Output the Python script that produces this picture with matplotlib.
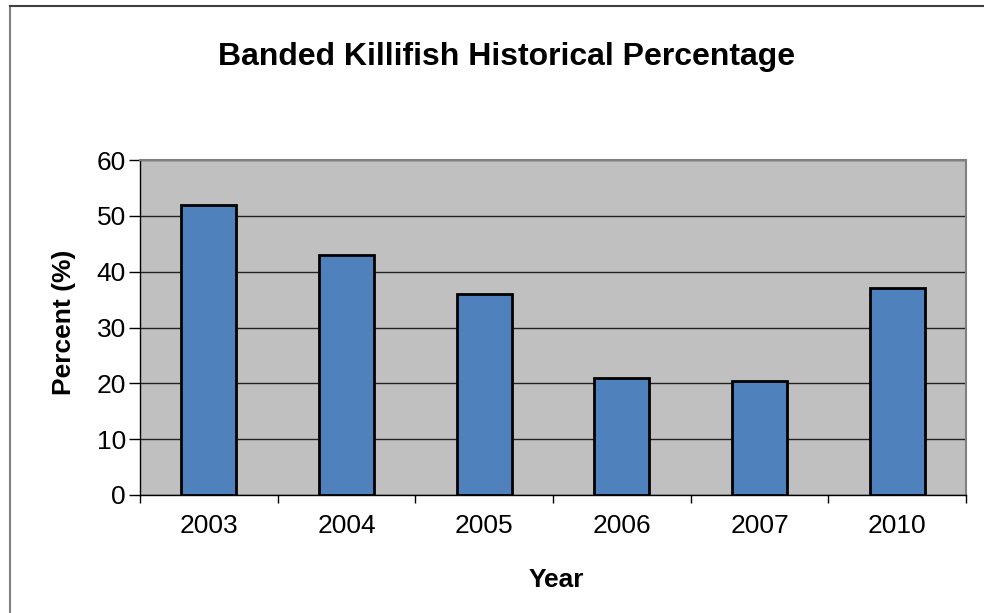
import matplotlib
matplotlib.use("Agg")
import matplotlib.pyplot as plt
from matplotlib.lines import Line2D

years = ["2003", "2004", "2005", "2006", "2007", "2010"]
percent = [52, 43, 36, 21, 20.5, 37]
y_ticks = [0, 10, 20, 30, 40, 50, 60]

plt.rcParams["font.family"] = ["Liberation Sans", "DejaVu Sans"]

W, H = 984, 613
fig = plt.figure(figsize=(W / 100, H / 100), dpi=100)
fig.patch.set_facecolor("white")

# chart frame (left and top edges visible)
fig.add_artist(Line2D([10 / W, 10 / W], [0, 1 - 6 / H], transform=fig.transFigure,
                      color="#808080", lw=1.5))
fig.add_artist(Line2D([10 / W, 1], [1 - 6 / H, 1 - 6 / H], transform=fig.transFigure,
                      color="#404040", lw=1.5))

left, right, top, bottom = 140, 966, 160, 495
ax = fig.add_axes([left / W, 1 - bottom / H, (right - left) / W, (bottom - top) / H])
ax.set_facecolor("#C0C0C0")

x = list(range(len(years)))
ax.bar(x, percent, width=0.4, color="#4F81BD", edgecolor="black", linewidth=2, zorder=3)

ax.set_xlim(-0.5, len(years) - 0.5)
ax.set_ylim(0, 60)
ax.set_yticks(y_ticks)
ax.set_xticks(x)
ax.set_xticklabels(years)
ax.set_xticks([i + 0.5 for i in range(-1, len(years))], minor=True)
ax.tick_params(axis="x", which="major", length=0, pad=14, labelsize=19)
ax.tick_params(axis="x", which="minor", length=6, width=1, color="black")
ax.tick_params(axis="y", length=8, width=1, labelsize=19, pad=2)

ax.grid(axis="y", color="#222222", lw=1, zorder=1)
for s in ("top", "right"):
    ax.spines[s].set_color("#808080")
    ax.spines[s].set_linewidth(1.5)
for s in ("left", "bottom"):
    ax.spines[s].set_color("black")
    ax.spines[s].set_linewidth(1)

fig.text(556 / W, 1 - 580 / H, "Year", ha="center", va="center",
         fontsize=19, fontweight="bold")
fig.text(64 / W, 1 - 322 / H, "Percent (%)", ha="center", va="center",
         rotation=90, fontsize=19, fontweight="bold")

fig.text(507 / W, 1 - 57 / H, "Banded Killifish Historical Percentage",
         ha="center", va="center", fontsize=23, fontweight="bold")

fig.savefig("out.png", dpi=100)
